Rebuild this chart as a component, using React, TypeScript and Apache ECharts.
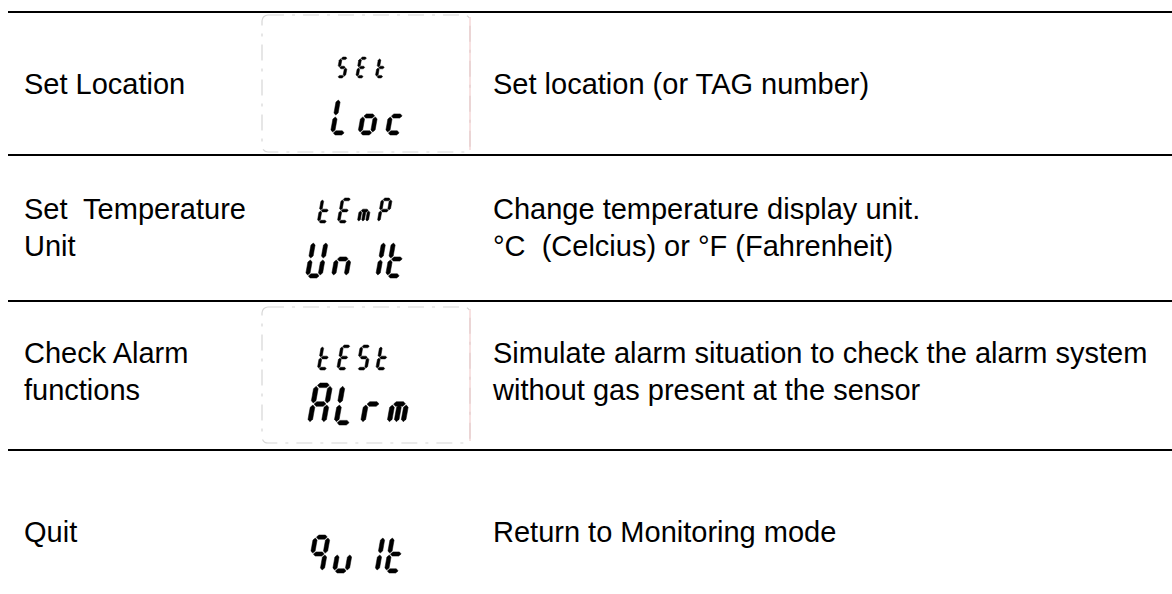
import React, { useEffect, useRef } from "react";
import * as echarts from "echarts";

// ---- content ----
const rowLabels: string[][] = [
  ["Set Location"],
  ["Set  Temperature", "Unit"],
  ["Check Alarm", "functions"],
  ["Quit"],
];
const rowDescriptions: string[][] = [
  ["Set location (or TAG number)"],
  ["Change temperature display unit.", "°C  (Celcius) or °F (Fahrenheit)"],
  ["Simulate alarm situation to check the alarm system", "without gas present at the sensor"],
  ["Return to Monitoring mode"],
];
const lcdTopWords = ["SEt", "tEmP", "tESt", ""];
const lcdBottomWords = ["Loc", "Un It", "ALrm", "qu It"];
const lcdFramed = [true, false, true, false];

// ---- layout ----
const W = 1172;
const H = 594;
const ruleYs = [12, 155, 301, 450];
const labelX = 24;
const descX = 493;
const textLineYs = [[84], [209, 246], [353, 390], [532]];
const framesY = [
  [15, 152],
  [0, 0],
  [307, 443],
  [0, 0],
];
const frameX = [262, 470];
// glyph placement per row: [x0, top, height, pitch]
const topGlyph = [
  [336, 57, 21, 19.5],
  [317, 198, 25, 20],
  [317, 345, 25, 19.5],
  [0, 0, 0, 0],
];
const bottomGlyph = [
  [330, 97, 38, 27.5],
  [305, 240, 38, 26],
  [307, 383, 42, 26.5],
  [307, 535, 38, 25],
];

// seven-segment definitions
const SEGS: Record<string, string[]> = {
  S: ["a", "f", "g", "c", "d"],
  E: ["a", "f", "g", "e", "d"],
  t: ["f", "g", "e", "d"],
  L: ["f", "e", "d"],
  o: ["g", "c", "d", "e"],
  c: ["g", "e", "d"],
  m: ["g", "e", "c", "m"],
  P: ["a", "b", "f", "g", "e"],
  U: ["b", "c", "d", "e", "f"],
  n: ["g", "e", "c"],
  I: ["f", "e"],
  A: ["a", "b", "c", "e", "f", "g"],
  r: ["g", "e"],
  q: ["a", "b", "f", "g", "c"],
  u: ["c", "d", "e"],
  " ": [],
};
const ADVANCE: Record<string, number> = { " ": 0.7, I: 0.38 };

function glyphPolys(word: string, x0: number, top: number, h: number, pitch: number) {
  const out: any[] = [];
  const w = h * 0.44;
  const t = Math.max(2.6, h * 0.11);
  const gap = t * 0.22;
  const slant = 0.18;
  const tx = (x: number, y: number) => [x0 + x + slant * (h - y), top + y];
  let ox = 0;
  for (let i = 0; i < word.length; i++) {
    const ch = word[i];
    const segs = SEGS[ch] || [];
    const L = ox + t / 2;
    const R = ox + w - t / 2;
    const M = ox + w / 2;
    const T = t / 2;
    const C = h / 2;
    const B = h - t / 2;
    const ends: Record<string, number[][]> = {
      a: [[L, T], [R, T]],
      g: [[L, C], [R, C]],
      d: [[L, B], [R, B]],
      f: [[L, T], [L, C]],
      e: [[L, C], [L, B]],
      b: [[R, T], [R, C]],
      c: [[R, C], [R, B]],
      m: [[M, C], [M, B]],
    };
    for (const s of segs) {
      const [p1, p2] = ends[s];
      const dx = p2[0] - p1[0];
      const dy = p2[1] - p1[1];
      const len = Math.hypot(dx, dy);
      const ux = dx / len;
      const uy = dy / len;
      const nx = -uy;
      const ny = ux;
      const hw = t / 2;
      const A = [p1[0] + ux * gap, p1[1] + uy * gap];
      const Bp = [p2[0] - ux * gap, p2[1] - uy * gap];
      const pts = [
        A,
        [A[0] + ux * hw + nx * hw, A[1] + uy * hw + ny * hw],
        [Bp[0] - ux * hw + nx * hw, Bp[1] - uy * hw + ny * hw],
        Bp,
        [Bp[0] - ux * hw - nx * hw, Bp[1] - uy * hw - ny * hw],
        [A[0] + ux * hw - nx * hw, A[1] + uy * hw - ny * hw],
      ].map((p) => tx(p[0], p[1]));
      out.push({
        type: "polygon",
        shape: { points: pts },
        style: { fill: "#000", stroke: "#000", lineWidth: 0.5, lineJoin: "round" },
        silent: true,
      });
    }
    ox += pitch * (ADVANCE[ch] ?? 1);
  }
  return out;
}

const FONT_FAMILY = '"Liberation Sans", Arial, Helvetica, sans-serif';

function textEl(text: string, x: number, y: number) {
  return {
    type: "text",
    x,
    y,
    silent: true,
    style: {
      text,
      fill: "#000",
      fontSize: 29,
      fontFamily: FONT_FAMILY,
      align: "left",
      verticalAlign: "middle",
      textAlign: "left",
      textVerticalAlign: "middle",
    },
  };
}

export default function App() {
  const ref = useRef<HTMLDivElement>(null);
  useEffect(() => {
    document.body.style.margin = "0";
    if (!ref.current) return;
    const chart = echarts.init(ref.current, undefined, { renderer: "svg" });
    const els: any[] = [];
    els.push({ type: "rect", shape: { x: 0, y: 0, width: W, height: H }, style: { fill: "#fff" }, silent: true });
    ruleYs.forEach((y) => {
      els.push({
        type: "line",
        shape: { x1: 8, y1: y, x2: W, y2: y },
        style: { stroke: "#000", lineWidth: 2 },
        silent: true,
      });
    });
    rowLabels.forEach((lines, r) => {
      lines.forEach((s, k) => els.push(textEl(s, labelX, textLineYs[r][k])));
      rowDescriptions[r].forEach((s, k) => els.push(textEl(s, descX, textLineYs[r][k])));
      if (lcdFramed[r]) {
        const [y1, y2] = framesY[r];
        els.push({
          type: "rect",
          shape: { x: frameX[0], y: y1, width: frameX[1] - frameX[0], height: y2 - y1, r: 6 },
          style: { fill: "none", stroke: "#d6d6d6", lineWidth: 1.2, lineDash: [16, 8, 3, 8] },
          silent: true,
        });
        els.push({
          type: "line",
          shape: { x1: frameX[1], y1: y1 + 2, x2: frameX[1], y2: y2 - 2 },
          style: { stroke: "#f0c4c4", lineWidth: 1 },
          silent: true,
        });
      }
      const tg = topGlyph[r];
      if (lcdTopWords[r]) els.push(...glyphPolys(lcdTopWords[r], tg[0], tg[1], tg[2], tg[3]));
      const bg = bottomGlyph[r];
      if (lcdBottomWords[r]) els.push(...glyphPolys(lcdBottomWords[r], bg[0], bg[1], bg[2], bg[3]));
    });
    chart.setOption({ animation: false, graphic: { elements: els } });
    return () => chart.dispose();
  }, []);
  return <div ref={ref} style={{ width: W, height: H }} />;
}
